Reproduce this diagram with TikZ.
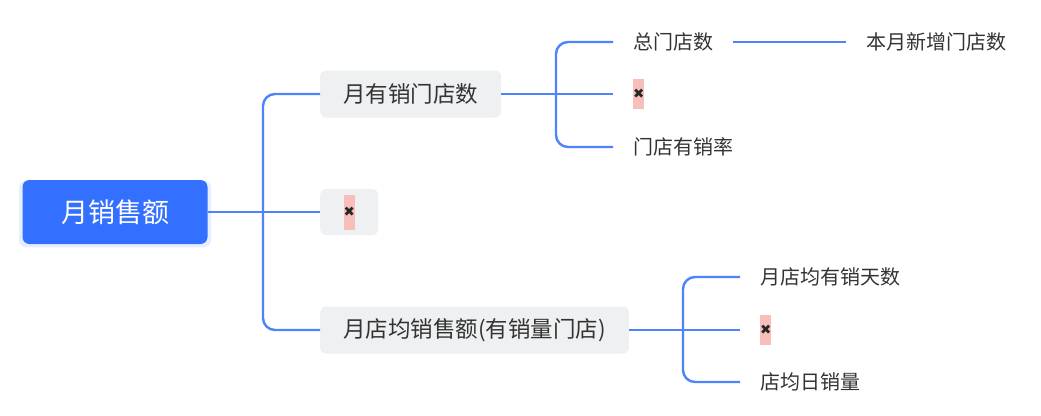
\documentclass[tikz,border=0pt]{standalone}
\usepackage{fontspec}
\setmainfont{Noto Sans CJK SC}
\newfontfamily\markfont{DejaVu Sans}
\usetikzlibrary{shadows}
\definecolor{mapblue}{HTML}{3370FF}
\definecolor{linkblue}{HTML}{4D83FB}
\definecolor{topicgray}{HTML}{EFF0F2}
\definecolor{blankpink}{HTML}{F8BFBA}
\definecolor{inkgray}{HTML}{333333}
\tikzset{root/.style={rectangle,rounded corners=7pt,fill=mapblue,text=white,
 minimum width=185pt,minimum height=64pt,inner sep=0pt,font=\fontsize{27}{30}\selectfont,
 drop shadow={shadow xshift=0pt,shadow yshift=-2pt,shadow scale=1.04,fill=mapblue,opacity=.12}},
 topic/.style={rectangle,rounded corners=6pt,fill=topicgray,text=inkgray,anchor=west,
 minimum height=47pt,inner xsep=23pt,inner ysep=0pt,font=\fontsize{22.5}{26}\selectfont},
 leaf/.style={inner sep=0pt,outer xsep=20pt,anchor=west,text=inkgray,
 font=\fontsize{20}{24}\selectfont},
 link/.style={draw=linkblue,line width=2.4pt,rounded corners=12pt}}
\newcommand{\blankmark}[1]{{\setlength{\fboxsep}{0pt}\colorbox{blankpink}{%
 \parbox[c][#1][c]{11pt}{\centering\markfont\fontsize{13.5}{13.5}\selectfont\color{black!85}✖}}}}

\begin{document}
\begin{tikzpicture}[x=1pt,y=-1pt]
 \useasboundingbox (0,0) rectangle (1041,415);
 \node[root] (sales) at (115,212) {月销售额};
 \node[topic] (stores) at (320,94) {月有销门店数};
 \node[topic,minimum width=58pt,inner xsep=0pt,minimum height=46pt] (gap) at (320,212) {\blankmark{35pt}};
 \node[topic] (avg) at (320,330) {月店均销售额(有销量门店)};
 \coordinate (trunk) at (263,212);
 \draw[link] (sales.east) -- (gap.west);
 \draw[link] (stores.west) -| (trunk) |- (avg.west);

 \node[leaf] (total) at (613,42) {总门店数};
 \node[leaf] (gapa) at (613,94) {\blankmark{30pt}};
 \node[leaf] (rate) at (613,147) {门店有销率};
 \node[leaf] (newstores) at (846,42) {本月新增门店数};
 \coordinate (forka) at (556,94);
 \draw[link] (stores.east) -- (gapa.west);
 \draw[link] (total.west) -| (forka) |- (rate.west);
 \draw[link] (total.east) -- (newstores.west);

 \node[leaf] (days) at (740,277) {月店均有销天数};
 \node[leaf] (gapb) at (740,330) {\blankmark{30pt}};
 \node[leaf] (daily) at (740,382) {店均日销量};
 \coordinate (forkb) at (683,330);
 \draw[link] (avg.east) -- (gapb.west);
 \draw[link] (days.west) -| (forkb) |- (daily.west);
\end{tikzpicture}
\end{document}
